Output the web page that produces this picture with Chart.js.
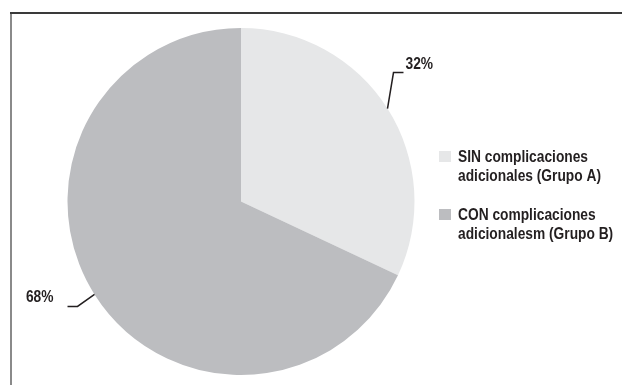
<!DOCTYPE html>
<html>
<head>
<meta charset="utf-8">
<script src="https://cdn.jsdelivr.net/npm/chart.js@4"></script>
<style>
  html, body { margin: 0; padding: 0; background: #ffffff; }
  #wrap { position: relative; width: 622px; height: 385px; }
</style>
</head>
<body>
<div id="wrap"><canvas id="c" width="622" height="385"></canvas></div>
<script>
// ---- data ----
const categories = [
  ["SIN complicaciones", "adicionales (Grupo A)"],
  ["CON complicaciones", "adicionalesm (Grupo B)"]
];
const values = [32, 68];
const valueLabels = ["32%", "68%"];
const sliceColors = ["#e6e7e8", "#bcbdc0"];

const FONT = '"Liberation Sans", Arial, sans-serif';
const FONT_SIZE = 16;
const SQUEEZE = 0.86; // horizontal condensing to mimic a condensed face
const INK = "#231f20";

function narrowText(ctx, text, x, y, align) {
  ctx.save();
  ctx.font = "bold " + FONT_SIZE + "px " + FONT;
  ctx.textAlign = align;
  ctx.textBaseline = "alphabetic";
  ctx.translate(x, y);
  ctx.scale(SQUEEZE, 1);
  ctx.fillText(text, 0, 0);
  ctx.restore();
}

const framePlugin = {
  id: "frame",
  beforeDraw(chart) {
    const ctx = chart.ctx;
    ctx.save();
    ctx.fillStyle = "#ffffff";
    ctx.fillRect(0, 0, chart.width, chart.height);
    ctx.lineWidth = 2;
    ctx.strokeStyle = "#8a8a8a";
    ctx.beginPath(); ctx.moveTo(11, 12); ctx.lineTo(11, chart.height); ctx.stroke();
    ctx.strokeStyle = "#3a3a3a";
    ctx.beginPath(); ctx.moveTo(10, 13); ctx.lineTo(chart.width, 13); ctx.stroke();
    ctx.restore();
  }
};

// leader line style per slice: elbow offset from edge point, horizontal run
const leaderStyle = [
  { elbow: [6, -36], run: 10, align: "left", gap: 2 },
  { elbow: [-17, 12], run: -10, align: "right", gap: 14 }
];

const labelPlugin = {
  id: "leaderLabels",
  afterDatasetsDraw(chart) {
    const ctx = chart.ctx;
    const meta = chart.getDatasetMeta(0);
    ctx.save();
    meta.data.forEach((arc, i) => {
      const p = arc.getProps(["x", "y", "startAngle", "endAngle", "outerRadius"], true);
      const mid = (p.startAngle + p.endAngle) / 2;
      const sx = p.x + Math.cos(mid) * p.outerRadius;
      const sy = p.y + Math.sin(mid) * p.outerRadius;
      const st = leaderStyle[i];
      const ex = sx + st.elbow[0], ey = sy + st.elbow[1];
      const fx = ex + st.run;
      ctx.strokeStyle = INK;
      ctx.lineWidth = 1.5;
      ctx.beginPath();
      ctx.moveTo(sx, sy); ctx.lineTo(ex, ey); ctx.lineTo(fx, ey);
      ctx.stroke();
      ctx.fillStyle = INK;
      const tx = st.align === "left" ? fx + st.gap : fx - st.gap;
      narrowText(ctx, chart.data.datasets[0].valueLabels[i], tx, ey - 4, st.align);
    });
    ctx.restore();
  }
};

const legendPlugin = {
  id: "sideLegend",
  afterDraw(chart) {
    const ctx = chart.ctx;
    const ds = chart.data.datasets[0];
    const x0 = 439, boxW = 12, boxH = 11, textX = 458;
    const itemTop = [151, 209];
    const lineH = 19;
    ctx.save();
    chart.data.labels.forEach((lines, i) => {
      ctx.fillStyle = ds.backgroundColor[i];
      ctx.fillRect(x0, itemTop[i], boxW, boxH);
      ctx.fillStyle = INK;
      lines.forEach((t, j) => narrowText(ctx, t, textX, itemTop[i] + 11 + j * lineH, "left"));
    });
    ctx.restore();
  }
};

new Chart(document.getElementById("c"), {
  type: "pie",
  data: {
    labels: categories,
    datasets: [{
      data: values,
      valueLabels: valueLabels,
      backgroundColor: sliceColors,
      borderWidth: 0
    }]
  },
  options: {
    responsive: false,
    animation: false,
    layout: { padding: { left: 67.5, top: 28, right: 207.5, bottom: 10 } },
    plugins: {
      legend: { display: false },
      tooltip: { enabled: false }
    }
  },
  plugins: [framePlugin, labelPlugin, legendPlugin]
});
</script>
</body>
</html>
